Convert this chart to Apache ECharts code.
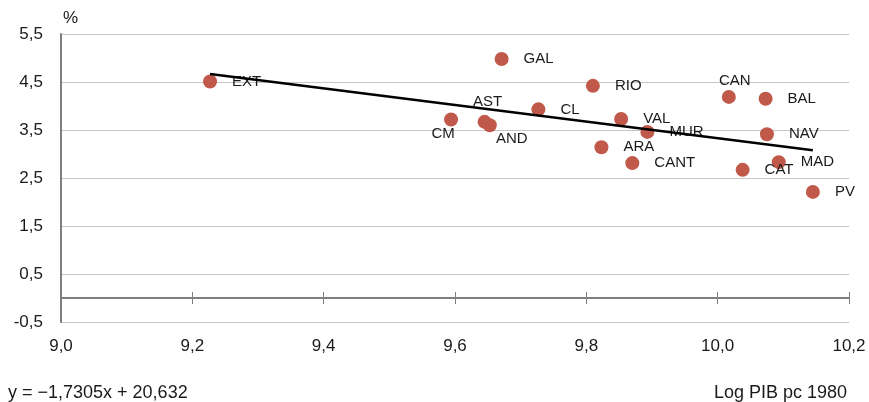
<!DOCTYPE html>
<html>
<head>
<meta charset="utf-8">
<script src="https://cdn.jsdelivr.net/npm/echarts@6/dist/echarts.min.js"></script>
<style>
	html, body { margin: 0; padding: 0; background: #fff; }
	#chart { width: 869px; height: 402px; }
</style>
</head>
<body>
<div id="chart"></div>
<script>
// regions and their values
var regions = ['EXT', 'GAL', 'RIO', 'CAN', 'BAL', 'CL', 'CM', 'AST', 'AND', 'VAL', 'MUR', 'NAV', 'ARA', 'CANT', 'MAD', 'CAT', 'PV'];
var logPib1980 = [9.227, 9.671, 9.810, 10.017, 10.073, 9.727, 9.594, 9.645, 9.653, 9.853, 9.893, 10.075, 9.823, 9.870, 10.093, 10.038, 10.145];
var growth = [4.51, 4.98, 4.42, 4.19, 4.15, 3.93, 3.72, 3.67, 3.60, 3.73, 3.46, 3.41, 3.14, 2.81, 2.83, 2.67, 2.21];

// trend line as printed under the chart
var slope = -1.7305;
var intercept = 20.632;

var xTicks = [9.0, 9.2, 9.4, 9.6, 9.8, 10.0, 10.2];
var yTicks = [-0.5, 0.5, 1.5, 2.5, 3.5, 4.5, 5.5];

// labels that do not sit to the right of their dot
var labelPlace = {
	CAN: [6, -16],
	AST: [3, -20],
	CM: [-8, 14],
	AND: [22, 14]
};

var fontFam = '"Liberation Sans", Arial, Helvetica, sans-serif';

function comma(v) {
	return v.toFixed(1).replace('.', ',');
}

function created() {
	var chart = echarts.init(document.getElementById('chart'));

	var points = [];
	for (var i = 0; i < regions.length; i++) {
		var p = {
			name: regions[i],
			value: [logPib1980[i], growth[i]]
		};
		if (labelPlace[regions[i]]) {
			p.label = {
				position: 'inside',
				offset: labelPlace[regions[i]]
			};
		}
		points.push(p);
	}

	var xMin = Math.min.apply(null, logPib1980);
	var xMax = Math.max.apply(null, logPib1980);
	var trend = [
		[xMin, slope * xMin + intercept],
		[xMax, slope * xMax + intercept]
	];

	var xBase = {
		type: 'value',
		min: xTicks[0],
		max: xTicks[xTicks.length - 1],
		interval: 0.2,
		position: 'bottom',
		splitLine: { show: false }
	};

	var yBase = {
		type: 'value',
		min: yTicks[0],
		max: yTicks[yTicks.length - 1],
		interval: 0.5,
		position: 'left'
	};

	chart.setOption({
		animation: false,
		textStyle: { fontFamily: fontFam },
		grid: {
			left: 61,
			right: 20,
			top: 34,
			bottom: 80,
			containLabel: false
		},
		xAxis: [
			// the zero line, ticks pointing up
			Object.assign({}, xBase, {
				axisLine: { onZero: true, onZeroAxisIndex: 0, lineStyle: { color: '#7f7f7f', width: 2 } },
				axisTick: { show: true, inside: true, length: 6, lineStyle: { color: '#7f7f7f', width: 1 } },
				axisLabel: { show: false }
			}),
			// same ticks pointing down
			Object.assign({}, xBase, {
				axisLine: { show: true, onZero: true, onZeroAxisIndex: 1, lineStyle: { opacity: 0 } },
				axisTick: { show: true, inside: false, length: 6, lineStyle: { color: '#7f7f7f', width: 1 } },
				axisLabel: { show: false }
			}),
			// labels at the bottom of the plot
			Object.assign({}, xBase, {
				axisLine: { show: false, onZero: false },
				axisTick: { show: false },
				axisLabel: {
					margin: 16,
					fontSize: 17,
					color: '#1a1a1a',
					formatter: function (v) { return comma(v); }
				}
			})
		],
		yAxis: [
			Object.assign({}, yBase, {
				name: '%',
				nameLocation: 'end',
				nameGap: 7,
				nameTextStyle: { fontSize: 17, color: '#1a1a1a', align: 'left', padding: [0, 0, 0, 2] },
				axisLine: { show: true, lineStyle: { color: '#7f7f7f', width: 2 } },
				axisTick: { show: false },
				axisLabel: {
					margin: 18,
					fontSize: 17,
					color: '#1a1a1a',
					formatter: function (v) {
						for (var k = 0; k < yTicks.length; k++) {
							if (Math.abs(yTicks[k] - v) < 1e-6) return comma(v);
						}
						return '';
					}
				},
				splitLine: {
					show: true,
					lineStyle: { color: ['#c6c6c6', 'rgba(0,0,0,0)'], width: 1 }
				}
			}),
			Object.assign({}, yBase, {
				axisLine: { show: false, onZero: false },
				axisTick: { show: false },
				axisLabel: { show: false },
				splitLine: { show: false }
			})
		],
		series: [{
				type: 'line',
				xAxisIndex: 0,
				yAxisIndex: 0,
				data: trend,
				showSymbol: false,
				silent: true,
				lineStyle: { color: '#000', width: 2.5 },
				z: 3
			}, {
				type: 'scatter',
				xAxisIndex: 0,
				yAxisIndex: 0,
				data: points,
				symbolSize: 14,
				itemStyle: { color: '#c0594a', opacity: 1 },
				label: {
					show: true,
					position: 'right',
					distance: 15,
					fontSize: 15,
					color: '#1a1a1a',
					formatter: '{b}'
				},
				z: 2
			}
		],
		graphic: [{
				type: 'text',
				left: 8,
				top: 384,
				style: {
					text: 'y = \u22121,7305x + 20,632',
					fontSize: 18,
					fontFamily: fontFam,
					fill: '#1a1a1a'
				}
			}, {
				type: 'text',
				right: 22,
				top: 384,
				style: {
					text: 'Log PIB pc 1980',
					fontSize: 18,
					fontFamily: fontFam,
					fill: '#1a1a1a'
				}
			}
		]
	});
}

created();
</script>
</body>
</html>
